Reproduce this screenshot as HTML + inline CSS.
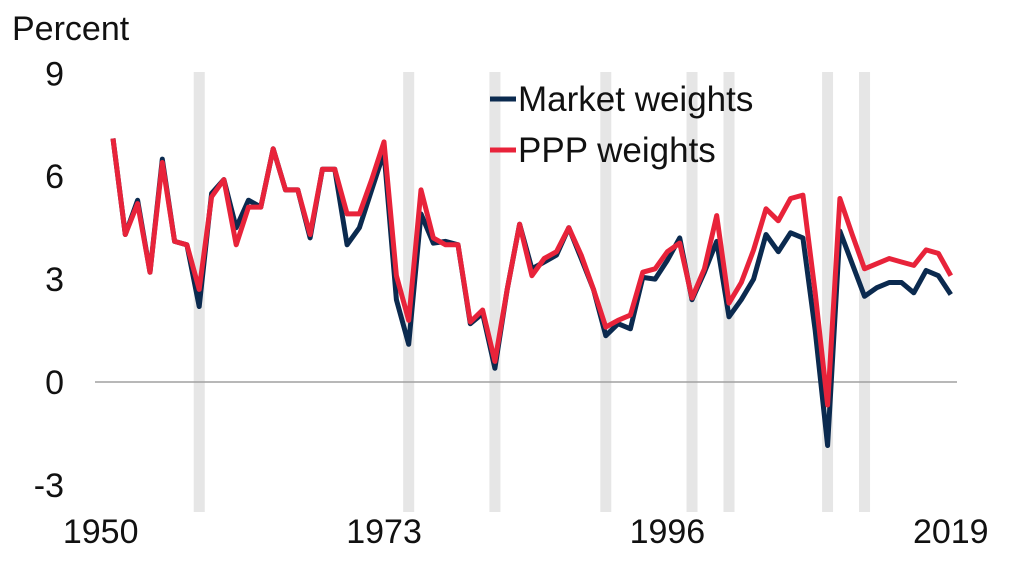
<!DOCTYPE html>
<html><head><meta charset="utf-8"><style>
html,body{margin:0;padding:0;background:#fff;}
svg text{font-family:"Liberation Sans",sans-serif;fill:#111;}
</style></head><body>
<svg width="1024" height="578" viewBox="0 0 1024 578" id="chart">
<text x="12" y="40" font-size="34">Percent</text>
<g id="bands"></g>
<g id="yticks"></g>
<g id="xticks"></g>
<line id="zero" stroke="#a0a0a0" stroke-width="1.5"/>
<path id="navy" fill="none" stroke="#0b2a4f" stroke-width="5" stroke-linejoin="round"/>
<path id="red" fill="none" stroke="#e8233a" stroke-width="5" stroke-linejoin="round"/>
<g>
<line x1="490" y1="99" x2="516" y2="99" stroke="#0b2a4f" stroke-width="5"/>
<text x="518" y="111" font-size="35">Market weights</text>
<line x1="490" y1="150" x2="516" y2="150" stroke="#e8233a" stroke-width="5"/>
<text x="518" y="162" font-size="35">PPP weights</text>
</g>
</svg>
<script>
const years=[];for(let y=1951;y<=2019;y++)years.push(y);
const market=[7.1,4.3,5.3,3.2,6.5,4.1,4.0,2.2,5.5,5.9,4.5,5.3,5.1,6.8,5.6,5.6,4.2,6.2,6.2,4.0,4.5,5.6,6.7,2.4,1.1,4.9,4.05,4.1,4.0,1.7,2.0,0.4,2.7,4.6,3.3,3.5,3.7,4.5,3.6,2.7,1.35,1.7,1.55,3.05,3.0,3.55,4.2,2.4,3.2,4.1,1.9,2.4,3.0,4.3,3.8,4.35,4.2,1.5,-1.85,4.4,3.45,2.5,2.75,2.9,2.9,2.6,3.25,3.1,2.55];
const ppp=[7.1,4.3,5.2,3.2,6.4,4.1,4.0,2.7,5.4,5.9,4.0,5.1,5.1,6.8,5.6,5.6,4.3,6.2,6.2,4.9,4.9,5.9,7.0,3.1,1.8,5.6,4.2,4.0,4.0,1.75,2.1,0.6,2.7,4.6,3.1,3.6,3.8,4.5,3.7,2.7,1.6,1.8,1.95,3.2,3.3,3.8,4.05,2.45,3.3,4.85,2.3,2.9,3.85,5.05,4.7,5.35,5.45,2.6,-0.67,5.35,4.3,3.3,3.45,3.6,3.5,3.4,3.85,3.75,3.1];
const yTicks=[9,6,3,0,-3];
const xTickYears=[1950,1973,1996,2019];
const recessions=[1958,1975,1982,1991,1998,2001,2009,2012];
const X=y=>113+(y-1951)*12.32;
const Y=v=>382-v*34.3;
const NS='http://www.w3.org/2000/svg';
function mk(t,a,p){const e=document.createElementNS(NS,t);for(const k in a)e.setAttribute(k,a[k]);p.appendChild(e);return e;}
const bands=document.getElementById('bands');
recessions.forEach(r=>{const e=mk('rect',{x:X(r)-5.5,y:72,width:11,height:440,fill:'#e6e6e6'},bands);

});
const yt=document.getElementById('yticks');
yTicks.forEach(v=>{const e=mk('text',{x:64,y:Y(v)+12,'font-size':34,'text-anchor':'end'},yt);e.textContent=v;

});
const xt=document.getElementById('xticks');
xTickYears.forEach(v=>{const e=mk('text',{x:X(v),y:543,'font-size':34,'text-anchor':'middle'},xt);e.textContent=v;

});
const z=document.getElementById('zero');z.setAttribute('x1',95);z.setAttribute('x2',957);z.setAttribute('y1',Y(0));z.setAttribute('y2',Y(0));
const line=a=>a.map((v,i)=>(i?'L':'M')+X(years[i]).toFixed(1)+','+Y(v).toFixed(1)).join('');
document.getElementById('navy').setAttribute('d',line(market));
document.getElementById('red').setAttribute('d',line(ppp));
</script>
</body></html>
